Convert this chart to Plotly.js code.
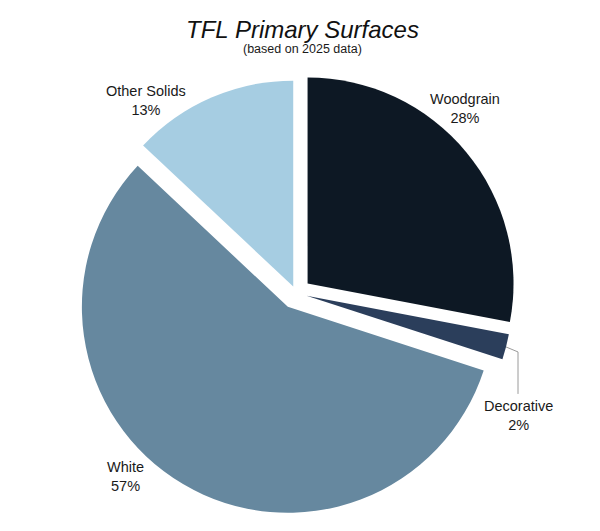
<!DOCTYPE html>
<html>
<head>
<meta charset="utf-8">
<script src="https://cdn.plot.ly/plotly-3.0.1.min.js"></script>
<style>html,body{margin:0;padding:0;background:#fff;}#chart{width:600px;height:531px;}</style>
</head>
<body>
<div id="chart"></div>
<script>
// ---- data ----
const categories = ["Woodgrain", "Decorative", "White", "Other Solids"];
const values = [28, 2, 57, 13];
const sliceColors = ["#0d1824", "#2b3e5b", "#66889f", "#a6cde2"];
const pulls = [0.073, 0.053, 0.078, 0.034];

// ---- layout helpers ----
const W = 600, H = 531;
const M = {l: 46, r: 54, t: 70.8, b: 15.8};
const pw = W - M.l - M.r, ph = H - M.t - M.b;
const px = x => (x - M.l) / pw;
const py = y => (H - M.b - y) / ph;

const total = values.reduce((a, b) => a + b, 0);
const pct = values.map(v => Math.round(v / total * 100));
// label centres (pixels)
const labelPos = [[465, 108], [518, 416], [125, 477], [146, 100]];

const font = "Liberation Sans, Arial, sans-serif";
const annotations = categories.map((c, i) => ({
  text: c + "<br>" + pct[i] + "%",
  xref: "paper", yref: "paper",
  x: px(labelPos[i][0]), y: py(labelPos[i][1]),
  xanchor: "center", yanchor: "middle",
  showarrow: false,
  font: {family: font, size: 14.5, color: "#1a1a1a"}
}));
annotations.push({
  text: "(based on 2025 data)",
  xref: "paper", yref: "paper",
  x: px(302.5), y: py(49),
  xanchor: "center", yanchor: "middle",
  showarrow: false,
  font: {family: font, size: 12.5, color: "#1a1a1a"}
});

const data = [{
  type: "pie",
  labels: categories,
  values: values,
  sort: false,
  direction: "clockwise",
  rotation: 0,
  pull: pulls,
  marker: {colors: sliceColors, line: {width: 0}},
  textinfo: "none",
  hoverinfo: "label+percent",
  showlegend: false
}];

const layout = {
  width: W, height: H,
  margin: M,
  paper_bgcolor: "#ffffff",
  plot_bgcolor: "#ffffff",
  showlegend: false,
  title: {
    text: "<i>TFL Primary Surfaces</i>",
    xref: "container", yref: "container",
    x: 302.5 / W, y: 1 - 30 / H,
    xanchor: "center", yanchor: "middle",
    font: {family: font, size: 24, color: "#111111"}
  },
  annotations: annotations,
  shapes: [{
    type: "path",
    xref: "paper", yref: "paper",
    path: "M " + px(506) + " " + py(347) + " L " + px(518) + " " + py(352) + " L " + px(518) + " " + py(394),
    line: {color: "#9a9a9a", width: 1}
  }]
};

Plotly.newPlot("chart", data, layout, {displayModeBar: false, staticPlot: true});
</script>
</body>
</html>
